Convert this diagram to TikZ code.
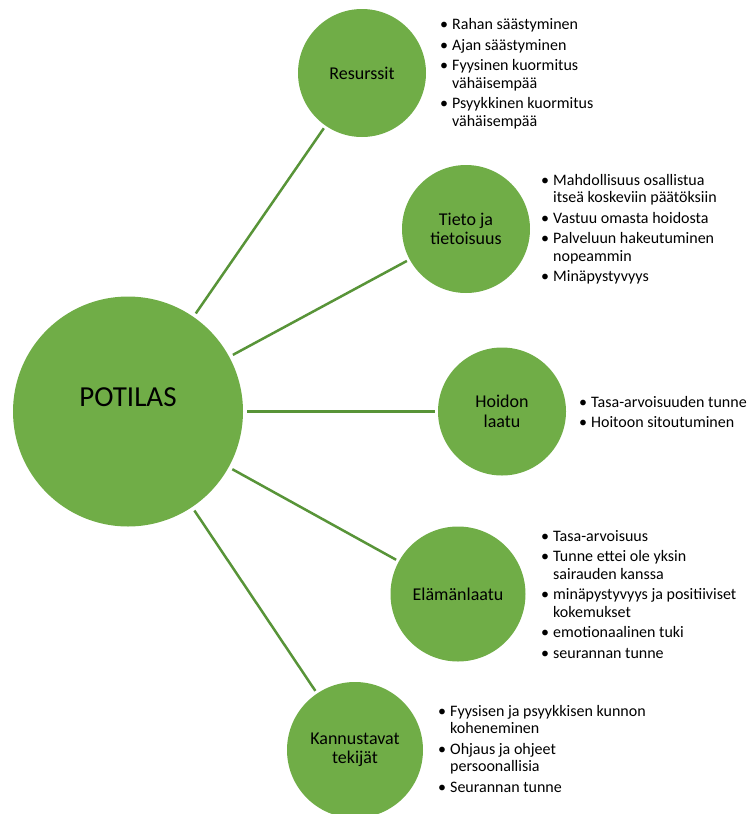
\documentclass[tikz,border=0pt]{standalone}
\usepackage{fontspec}
\setmainfont{Carlito}
\definecolor{leafgreen}{RGB}{112,173,71}
\definecolor{stemgreen}{RGB}{88,148,56}
\tikzset{
	bubble/.style={circle, fill=leafgreen, inner sep=0pt, align=center, font=\fontsize{18}{19.5}\selectfont},
	stem/.style={draw=stemgreen, line width=2.5pt, shorten <=4pt, shorten >=3pt},
	points/.style={anchor=base west, inner sep=0pt, font=\fontsize{16}{17.5}\selectfont}
}
\def\pts#1{\begin{tabular}[t]{@{}l@{\hspace{4pt}}l@{}}#1\end{tabular}}

\begin{document}
\begin{tikzpicture}[x=1pt, y=-1pt]
		%%%%% START %%%%%
		\useasboundingbox (0,0) rectangle (752,814);
		
		\node[bubble, minimum size=230pt, font=\fontsize{29}{30}\selectfont, text height=19pt, text depth=30pt] (potilas) at (128,411.5) {POTILAS};
		
		\node[bubble, minimum size=128pt] (resurssit) at (362,73) {Resurssit};
		\node[bubble, minimum size=128pt] (tieto) at (466,229) {Tieto ja\\tietoisuus};
		\node[bubble, minimum size=128pt] (hoito) at (502,411.5) {Hoidon\\laatu};
		\node[bubble, minimum size=135pt] (elama) at (458,594) {Elämänlaatu};
		\node[bubble, minimum size=136pt] (kannustus) at (355,750) {Kannustavat\\tekijät};
		
		\draw[stem] (potilas) -- (resurssit);
		\draw[stem] (potilas) -- (tieto);
		\draw[stem] (potilas) -- (hoito);
		\draw[stem] (potilas) -- (elama);
		\draw[stem] (potilas) -- (kannustus);
		
		\node[points] (resurssit-list) at (440,29.5) {\pts{%
			\textbullet & Rahan säästyminen\\[3pt]
			\textbullet & Ajan säästyminen\\[3pt]
			\textbullet & Fyysinen kuormitus\\
			& vähäisempää\\[3pt]
			\textbullet & Psyykkinen kuormitus\\
			& vähäisempää}};
		
		\node[points] (tieto-list) at (541,185) {\pts{%
			\textbullet & Mahdollisuus osallistua\\
			& itseä koskeviin päätöksiin\\[3pt]
			\textbullet & Vastuu omasta hoidosta\\[3pt]
			\textbullet & Palveluun hakeutuminen\\
			& nopeammin\\[3pt]
			\textbullet & Minäpystyvyys}};
		
		\node[points] (hoito-list) at (579,407) {\pts{%
			\textbullet & Tasa-arvoisuuden tunne\\[3pt]
			\textbullet & Hoitoon sitoutuminen}};
		
		\node[points] (elama-list) at (541,541) {\pts{%
			\textbullet & Tasa-arvoisuus\\[3pt]
			\textbullet & Tunne ettei ole yksin\\
			& sairauden kanssa\\[3pt]
			\textbullet & minäpystyvyys ja positiiviset\\
			& kokemukset\\[3pt]
			\textbullet & emotionaalinen tuki\\[3pt]
			\textbullet & seurannan tunne}};
		
		\node[points] (kannustus-list) at (438,716) {\pts{%
			\textbullet & Fyysisen ja psyykkisen kunnon\\
			& koheneminen\\[3pt]
			\textbullet & Ohjaus ja ohjeet\\
			& persoonallisia\\[3pt]
			\textbullet & Seurannan tunne}};
		
		%%%%% END %%%%%
\end{tikzpicture}
\end{document}
